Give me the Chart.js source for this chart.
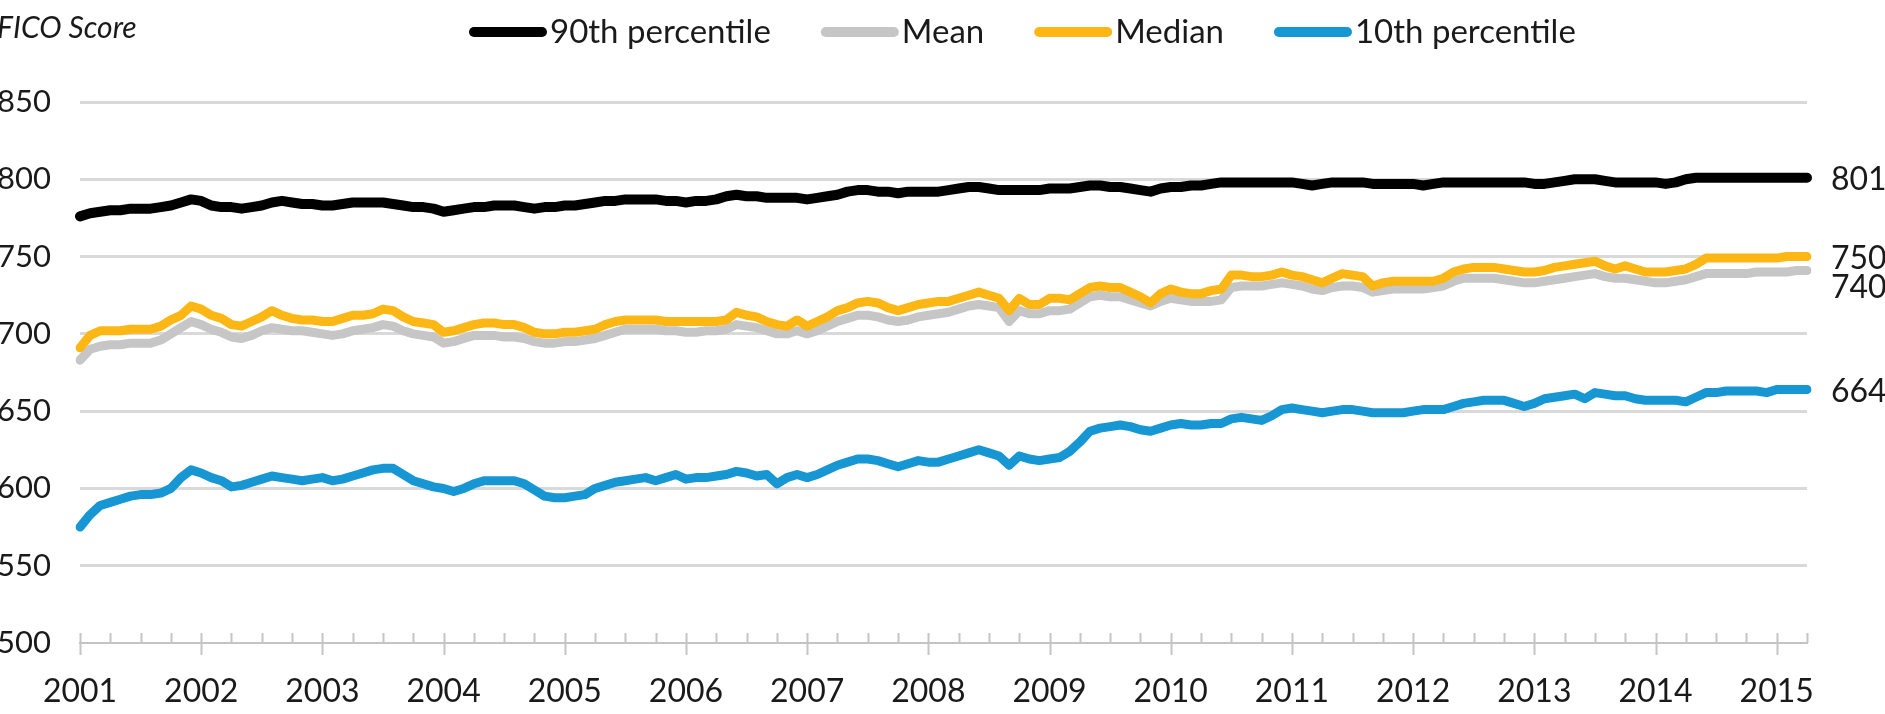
<!DOCTYPE html>
<html>
<head>
<meta charset="utf-8">
<script src="https://cdn.jsdelivr.net/npm/chart.js@4.4.1/dist/chart.umd.min.js"></script>
<style>
html,body{margin:0;padding:0;background:#fff;overflow:hidden}
canvas{display:block}
</style>
</head>
<body>
<canvas id="c" width="1885" height="714"></canvas>
<script>
// ---- tick labels / categories ----
const years = ['2001','2002','2003','2004','2005','2006','2007','2008','2009','2010','2011','2012','2013','2014','2015'];
const monthsInLastYear = 4;
const yTicks = [500,550,600,650,700,750,800,850];
const axisTitle = 'FICO Score';
const seriesNames = ['90th percentile','Mean','Median','10th percentile'];
const endLabels = ['801','740','750','664'];

// ---- series (monthly, Jan 2001 - Apr 2015) ----
const p90 = [
776,778,779,780,780,781,781,781,782,783,785,787,
786,783,782,782,781,782,783,785,786,785,784,784,
783,783,784,785,785,785,785,784,783,782,782,781,
779,780,781,782,782,783,783,783,782,781,782,782,
783,783,784,785,786,786,787,787,787,787,786,786,
785,786,786,787,789,790,789,789,788,788,788,788,
787,788,789,790,792,793,793,792,792,791,792,792,
792,792,793,794,795,795,794,793,793,793,793,793,
794,794,794,795,796,796,795,795,794,793,792,794,
795,795,796,796,797,798,798,798,798,798,798,798,
798,797,796,797,798,798,798,798,797,797,797,797,
797,796,797,798,798,798,798,798,798,798,798,798,
797,797,798,799,800,800,800,799,798,798,798,798,
798,797,798,800,801,801,801,801,801,801,801,801,
801,801,801,801];

const mean = [
683,690,692,693,693,694,694,694,696,700,704,708,
706,703,701,698,697,699,702,704,703,702,702,701,
700,699,700,702,703,704,706,705,702,700,699,698,
694,695,697,699,699,699,698,698,697,695,694,694,
695,695,696,697,699,701,703,703,703,703,702,702,
701,701,702,702,703,706,705,704,702,700,700,702,
700,702,705,708,710,712,712,711,709,708,709,711,
712,713,714,716,718,719,718,717,708,715,713,713,
715,715,716,720,724,725,724,724,722,720,718,721,
723,722,721,721,721,722,730,731,731,731,732,733,
732,731,729,728,730,731,731,730,727,728,729,729,
729,729,730,731,734,736,736,736,736,735,734,733,
733,734,735,736,737,738,739,737,736,736,735,734,
733,733,734,735,737,739,739,739,739,739,740,740,
740,740,741,741];

const median = [
691,699,702,702,702,703,703,703,705,709,712,718,
716,712,710,706,705,708,711,715,712,710,709,709,
708,708,710,712,712,713,716,715,711,708,707,706,
701,702,704,706,707,707,706,706,704,701,700,700,
701,701,702,703,706,708,709,709,709,709,708,708,
708,708,708,708,709,714,712,711,708,706,705,709,
705,708,711,715,717,720,721,720,717,715,717,719,
720,721,721,723,725,727,725,723,715,723,719,719,
723,723,722,726,730,731,730,730,727,724,720,726,
729,727,726,726,728,729,738,738,737,737,738,740,
738,737,735,733,736,739,738,737,731,733,734,734,
734,734,734,736,740,742,743,743,743,742,741,740,
740,741,743,744,745,746,747,744,742,744,742,740,
740,740,741,742,745,749,749,749,749,749,749,749,
749,750,750,750];

const p10 = [
575,583,589,591,593,595,596,596,597,600,607,612,
610,607,605,601,602,604,606,608,607,606,605,606,
607,605,606,608,610,612,613,613,609,605,603,601,
600,598,600,603,605,605,605,605,603,599,595,594,
594,595,596,600,602,604,605,606,607,605,607,609,
606,607,607,608,609,611,610,608,609,603,607,609,
607,609,612,615,617,619,619,618,616,614,616,618,
617,617,619,621,623,625,623,621,615,621,619,618,
619,620,624,630,637,639,640,641,640,638,637,639,
641,642,641,641,642,642,645,646,645,644,647,651,
652,651,650,649,650,651,651,650,649,649,649,649,
650,651,651,651,653,655,656,657,657,657,655,653,
655,658,659,660,661,658,662,661,660,660,658,657,
657,657,657,656,659,662,662,663,663,663,663,662,
664,664,664,664];

// month categories built from the year tick labels
const categories = [];
years.forEach((y, i) => {
  const n = i === years.length - 1 ? monthsInLastYear : 12;
  for (let m = 1; m <= n; m++) categories.push(y + '-' + String(m).padStart(2, '0'));
});

const TEXT = '#1a1a1a';
const FONT = 'Lato';

const decor = {
  id: 'decor',
  afterDraw(chart) {
    const ctx = chart.ctx;
    const xs = chart.scales.x, ys = chart.scales.y;
    const ca = chart.chartArea;
    ctx.save();

    // quarterly tick marks on the x axis
    const axisY = ys.getPixelForValue(yTicks[0]);
    ctx.strokeStyle = '#c4c4c4';
    ctx.lineWidth = 2;
    for (let i = 0; i < categories.length; i += 3) {
      const x = Math.round(xs.getPixelForValue(i)) + 0.5;
      ctx.beginPath();
      ctx.moveTo(x, axisY - 10);
      ctx.lineTo(x, i % 12 === 0 ? axisY + 12 : axisY);
      ctx.stroke();
    }

    // axis title
    ctx.fillStyle = TEXT;
    ctx.font = 'italic 30px ' + FONT;
    ctx.textAlign = 'left';
    ctx.textBaseline = 'alphabetic';
    ctx.fillText(axisTitle, -3, 38);

    // legend
    ctx.font = '33px ' + FONT;
    ctx.textBaseline = 'middle';
    let lx = 469;
    const ly = 32;
    chart.data.datasets.forEach(ds => {
      ctx.strokeStyle = ds.borderColor;
      ctx.lineWidth = 10;
      ctx.lineCap = 'round';
      ctx.beginPath();
      ctx.moveTo(lx + 5, ly);
      ctx.lineTo(lx + 73, ly);
      ctx.stroke();
      ctx.fillStyle = TEXT;
      ctx.fillText(ds.label, lx + 81, ly);
      lx += 81 + ctx.measureText(ds.label).width + 50;
    });

    // end-of-line value labels, nudged apart when they collide
    ctx.font = '32px ' + FONT;
    const items = chart.data.datasets.map((ds, i) => {
      const meta = chart.getDatasetMeta(i);
      const pt = meta.data[meta.data.length - 1];
      return { text: endLabels[i], y: pt.y + 2 };
    }).sort((a, b) => a.y - b.y);
    for (let k = 1; k < items.length; k++) {
      if (items[k].y - items[k - 1].y < 29) items[k].y = items[k - 1].y + 29;
    }
    ctx.fillStyle = TEXT;
    items.forEach(it => ctx.fillText(it.text, ca.right + 24, it.y));
    ctx.restore();
  }
};

function build() {
  Chart.defaults.font.family = FONT;
  new Chart(document.getElementById('c'), {
    type: 'line',
    data: {
      labels: categories,
      datasets: [
        { label: seriesNames[0], data: p90, borderColor: '#000000', borderWidth: 10, order: 0 },
        { label: seriesNames[1], data: mean, borderColor: '#c6c6c6', borderWidth: 9, order: 2 },
        { label: seriesNames[2], data: median, borderColor: '#fdb714', borderWidth: 9, order: 1 },
        { label: seriesNames[3], data: p10, borderColor: '#1696d2', borderWidth: 9, order: 3 }
      ]
    },
    options: {
      responsive: false,
      animation: false,
      devicePixelRatio: 1,
      layout: { padding: { left: 0, right: 78, top: 102, bottom: 0 } },
      elements: {
        point: { radius: 0 },
        line: { tension: 0, borderCapStyle: 'round', borderJoinStyle: 'round', fill: false }
      },
      plugins: { legend: { display: false }, tooltip: { enabled: false }, title: { display: false } },
      scales: {
        x: {
          type: 'category',
          grid: { display: false, drawTicks: false },
          border: { display: true, color: '#c4c4c4', width: 2 },
          ticks: {
            autoSkip: false, maxRotation: 0, minRotation: 0, padding: 29,
            color: TEXT, font: { size: 32 },
            callback: (v, i) => (i % 12 === 0 ? years[i / 12] : null)
          },
          afterFit: s => { s.height = 71; }
        },
        y: {
          min: yTicks[0], max: yTicks[yTicks.length - 1],
          grid: {
            color: c => (c.tick && c.tick.value === yTicks[0] ? 'rgba(0,0,0,0)' : '#d9d9d9'),
            lineWidth: 3, drawTicks: false
          },
          border: { display: false },
          ticks: { stepSize: 50, padding: 29, color: TEXT, font: { size: 31 } },
          afterFit: s => { s.width = 80; }
        }
      }
    },
    plugins: [decor]
  });
}

Promise.all([
  document.fonts.load('33px Lato'),
  document.fonts.load('italic 30px Lato')
]).then(build, build);
</script>
</body>
</html>
